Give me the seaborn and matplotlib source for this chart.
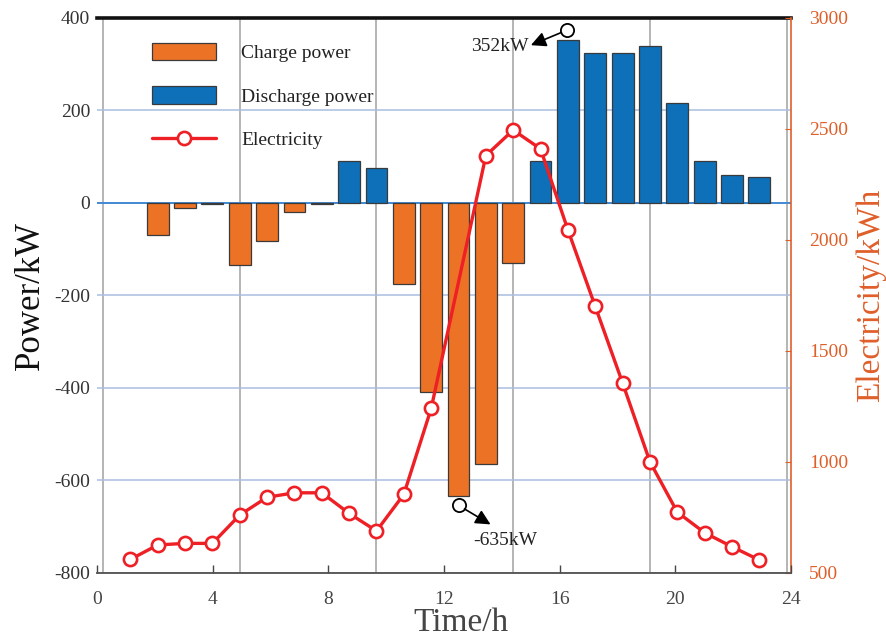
import numpy as np
import pandas as pd
import matplotlib
matplotlib.use("Agg")
import matplotlib.pyplot as plt
import matplotlib.transforms as mtransforms
from matplotlib.patches import Patch
from matplotlib.lines import Line2D
import seaborn as sns

# ---------------- data ----------------
hours = list(range(1, 25))
power = [np.nan, -70, -10, -2, -135, -83, -20, -2, 90, 75, -175, -410,
         -635, -565, -130, 90, 352, 325, 325, 340, 215, 90, 60, 55]
elec_hours = [1, 2, 3, 4, 5, 6, 7, 8, 9, 10, 11, 12,
              14, 15, 16, 17, 18, 19, 20, 21, 22, 23, 24]
electricity = [560, 625, 632, 632, 760, 840, 860, 860, 767, 688, 853, 1240,
               2380, 2495, 2410, 2045, 1700, 1355, 1000, 773, 680, 617, 557]
time_ticks = [0, 4, 8, 12, 16, 20, 24]
power_ticks = [-800, -600, -400, -200, 0, 200, 400]
elec_ticks = [500, 1000, 1500, 2000, 2500, 3000]
labels = ["Charge power", "Discharge power", "Electricity"]

# ---------------- style ----------------
sns.set_style("white")
plt.rcParams["font.family"] = ["Liberation Serif", "DejaVu Serif"]
plt.rcParams["axes.unicode_minus"] = False

ORANGE = "#EC7325"
BLUE = "#0E70B8"
RED = "#EE1F25"
AXORANGE = "#DF5F2A"
GRAY = "#454545"

fig, ax = plt.subplots(figsize=(8.87, 6.40), dpi=100)
fig.subplots_adjust(left=0.1094, right=0.8918, bottom=0.1052, top=0.9719)

df = pd.DataFrame({"hour": hours, "power": power})
df["kind"] = np.where(df["power"] > 0, labels[1], labels[0])

sns.barplot(data=df, x="hour", y="power", hue="kind",
            hue_order=[labels[0], labels[1]], palette=[ORANGE, BLUE],
            saturation=1, native_scale=True, dodge=False, width=0.8,
            errorbar=None, edgecolor="#3a3a3a", linewidth=0.9, legend=False,
            ax=ax, zorder=2)

ax.set_xlim(-0.22, 25.16)
ax.set_ylim(-800, 400)
ax.set_xticks([0, 5, 10, 15, 20, 25])
ax.set_yticks(power_ticks)
ax.tick_params(axis="x", length=0, labelbottom=False)
ax.tick_params(axis="y", length=0, pad=5, labelsize=14, labelcolor="#333333")
ax.grid(axis="x", color="#A8A8A8", lw=1.2, zorder=0)
ax.grid(axis="y", color="#A9BEE2", lw=1.1, zorder=0)
ax.axhline(0, color="#3A86D4", lw=1.3, zorder=1)
ax.set_axisbelow(True)
for s in ["left", "right", "bottom"]:
    ax.spines[s].set_visible(False)
ax.spines["top"].set_color("#111111")
ax.spines["top"].set_linewidth(2.6)
ax.set_xlabel("")
ax.set_ylabel("Power/kW", fontsize=25, color="#111111", labelpad=5)

# secondary axis: electricity
ax2 = ax.twinx()
sns.lineplot(x=elec_hours, y=electricity, ax=ax2, color=RED, lw=2.4,
             marker="o", markersize=9.5, markerfacecolor="white",
             markeredgecolor=RED, markeredgewidth=1.9, legend=False, zorder=5)
ax2.set_ylim(500, 3000)
ax2.set_yticks(elec_ticks)
ax2.tick_params(axis="y", direction="in", length=4, color=AXORANGE,
                labelcolor=AXORANGE, labelsize=14, pad=13)
for s in ["left", "top", "bottom"]:
    ax2.spines[s].set_visible(False)
ax2.spines["right"].set_color(AXORANGE)
ax2.spines["right"].set_linewidth(1.2)
ax2.set_ylabel("Electricity/kWh", fontsize=24, color=AXORANGE, labelpad=5)

# bottom time axis
ax3 = ax.twiny()
ax3.set_xlim(0, 24)
ax3.set_xticks(time_ticks)
ax3.xaxis.set_ticks_position("bottom")
ax3.xaxis.set_label_position("bottom")
ax3.tick_params(axis="x", direction="in", length=6, width=1, color=GRAY,
                labelcolor=GRAY, labelsize=14, pad=13)
for s in ["left", "right", "top"]:
    ax3.spines[s].set_visible(False)
ax3.spines["bottom"].set_color("#505050")
ax3.spines["bottom"].set_linewidth(1.3)
ax3.set_xlabel("Time/h", fontsize=24, color=GRAY)
ax3.xaxis.label.set_va("baseline")
ax3.xaxis.set_label_coords(0.524, -0.106)

# annotations of extreme power values
pw = np.array(power, dtype=float)
imax = int(np.nanargmax(pw))
imin = int(np.nanargmin(pw))

def mark(ax, x, y, circ_dx, circ_dy, tip_dx, tip_dy, text, tx, ty, ha):
    circ = mtransforms.offset_copy(ax.transData, fig=fig, x=circ_dx, y=circ_dy, units="dots")
    tip = mtransforms.offset_copy(ax.transData, fig=fig, x=tip_dx, y=tip_dy, units="dots")
    ax.plot([x], [y], marker="o", ms=9.5, mfc="white", mec="black", mew=1.3,
            transform=circ, zorder=6, clip_on=False)
    ax.annotate("", xy=(x, y), xycoords=tip, xytext=(x, y), textcoords=circ,
                arrowprops=dict(arrowstyle="-|>,head_length=0.9,head_width=0.45",
                                color="black", lw=1.2, shrinkA=5, shrinkB=0),
                zorder=6)
    ax.annotate(text, xy=(x, y), xytext=(tx, ty), textcoords="offset pixels",
                ha=ha, va="center", fontsize=14, color="#222222", zorder=6)

mark(ax, hours[imax], pw[imax], -1, 10, -37, -5, f"{int(pw[imax])}kW", -39, -6, "right")
mark(ax, hours[imin], pw[imin], 0, -9, 32, -28, f"{int(pw[imin])}kW", 15, -44, "left")

# legend
handles = [Patch(facecolor=ORANGE, edgecolor="#3a3a3a", lw=0.9),
           Patch(facecolor=BLUE, edgecolor="#3a3a3a", lw=0.9),
           Line2D([], [], color=RED, lw=2.4, marker="o", ms=9.5,
                  mfc="white", mec=RED, mew=1.9)]
leg = ax.legend(handles, labels, loc="upper left", bbox_to_anchor=(0.079, 0.955),
                frameon=False, fontsize=14, handlelength=3.3, handleheight=1.0,
                handletextpad=1.3, labelspacing=1.24, borderpad=0, borderaxespad=0)
for t in leg.get_texts():
    t.set_color("#222222")
leg.set_zorder(10)

fig.savefig("out.png", dpi=100)
